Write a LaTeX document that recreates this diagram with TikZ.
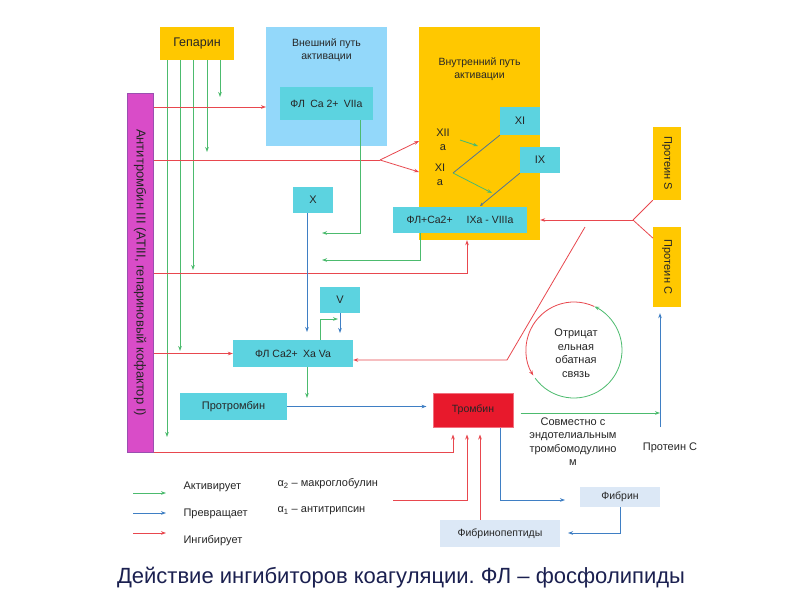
\documentclass[tikz,border=0pt]{standalone}
\usepackage{fontspec}
\setmainfont{Liberation Sans}
\frenchspacing
\usetikzlibrary{arrows.meta,calc,positioning}
\definecolor{cgInk}{HTML}{262626}
\definecolor{cgNavy}{HTML}{1B2050}
\definecolor{cgYellow}{HTML}{FFC800}
\definecolor{cgSky}{HTML}{93D8FA}
\definecolor{cgCyan}{HTML}{5CD3E0}
\definecolor{cgPale}{HTML}{DCE8F6}
\definecolor{cgMagenta}{HTML}{D94CC8}
\definecolor{cgPurple}{HTML}{9A4FB0}
\definecolor{cgRed}{HTML}{E8192C}
\definecolor{cgRose}{HTML}{F2707E}
\definecolor{cgGreen}{HTML}{4CBB6E}
\definecolor{cgBlue}{HTML}{3F7FC4}
\definecolor{cgLine}{HTML}{E8474E}
\definecolor{cgSlate}{HTML}{4F7497}
\tikzset{
  cg box/.style={inner sep=0pt, font=\fontsize{10.5}{12}\selectfont, text=cgInk, align=center},
  cg yellow/.style={cg box, fill=cgYellow},
  cg cyan/.style={cg box, fill=cgCyan},
  cg pale/.style={cg box, fill=cgPale},
  cg sky/.style={cg box, fill=cgSky},
  cg atiii/.style={cg box, fill=cgMagenta, draw=cgPurple, line width=1pt,
    font=\fontsize{13}{15}\selectfont},
  cg activ/.style={draw=cgGreen, line width=.8pt, -{Stealth[length=5pt,width=3.6pt]}},
  cg conv/.style={draw=cgBlue, line width=.8pt, -{Stealth[length=5pt,width=3.6pt]}},
  cg inhib/.style={draw=cgLine, line width=.8pt, -{Stealth[length=5pt,width=3.6pt]}},
  cg slate/.style={draw=cgSlate, line width=.8pt},
  cg small/.style={font=\fontsize{10.5}{13}\selectfont, text=cgInk, align=center},
  cg text/.style={font=\fontsize{11}{13.5}\selectfont, text=cgInk, align=center},
  cg title/.style={font=\fontsize{22}{26}\selectfont, text=cgNavy}
}

\begin{document}
\begin{tikzpicture}[x=1pt,y=-1pt]
  \useasboundingbox[fill=white] (0,0) rectangle (800,600);

  % boxes
  \node[cg yellow, font=\fontsize{12.5}{14}\selectfont, minimum width=74pt, minimum height=33pt] (hep) at (197,43.5) {Гепарин};
  \node[cg sky, minimum width=121pt, minimum height=119pt] (ext) at (326.5,86.5) {};
  \node[cg small, below=8pt of ext.north] (extT) {Внешний путь\\активации};
  \node[cg cyan, minimum width=93pt, minimum height=33pt] (vii) at (326.5,103.5) {ФЛ\enspace Ca 2+\enspace VIIa};
  \node[cg yellow, minimum width=121pt, minimum height=213pt] (intr) at (479.5,133.5) {};
  \node[cg small, below=27pt of intr.north] (intrT) {Внутренний путь\\активации};
  \node[cg cyan, font=\fontsize{11}{13}\selectfont, minimum width=40pt, minimum height=28pt] (xi) at (520,121) {XI};
  \node[cg cyan, font=\fontsize{11}{13}\selectfont, minimum width=40pt, minimum height=26pt] (ix) at (540,160) {IX};
  \node[cg text] (xiia) at (443,140) {XII\\a};
  \node[cg text] (xia) at (440,175) {XI\\a};
  \node[cg cyan, minimum width=134pt, minimum height=26pt] (ixa) at (460,220) {ФЛ+Ca2+\hspace{14pt}IXa - VIIIa};
  \node[cg atiii, minimum width=26pt, minimum height=359pt] (at3) at (140,272.5) {\rotatebox{-90}{Антитромбин III (ATIII, гепариновый кофактор I)}};
  \node[cg yellow, font=\fontsize{11}{12}\selectfont, minimum width=28pt, minimum height=73pt] (ps) at (667,163.5) {\rotatebox{-90}{Протеин S}};
  \node[cg yellow, font=\fontsize{11}{12}\selectfont, minimum width=28pt, minimum height=80pt] (pc) at (667,267) {\rotatebox{-90}{Протеин С}};
  \node[cg cyan, font=\fontsize{11}{13}\selectfont, minimum width=40pt, minimum height=26pt] (fx) at (313,200) {X};
  \node[cg cyan, font=\fontsize{11}{13}\selectfont, minimum width=40pt, minimum height=26pt] (fv) at (340,300) {V};
  \node[cg cyan, minimum width=120pt, minimum height=27pt] (xava) at (293,353.5) {ФЛ Ca2+\enspace Xa Va};
  \node[cg cyan, font=\fontsize{11}{13}\selectfont, minimum width=107pt, minimum height=27pt] (pro) at (233.5,406.5) {Протромбин};
  \node[cg box, fill=cgRed, draw=cgRose, line width=1pt, font=\fontsize{10.5}{12}\selectfont, minimum width=80pt, minimum height=34pt] (thr) at (473,410) {Тромбин};
  \node[cg pale, font=\fontsize{10.5}{12}\selectfont, minimum width=80pt, minimum height=20pt] (fib) at (620,497) {Фибрин};
  \node[cg pale, font=\fontsize{10.5}{12}\selectfont, minimum width=120pt, minimum height=27pt] (fp) at (500,533.5) {Фибринопептиды};

  % texts
  \node[cg text] (fbT) at (576,353) {Отрицат\\ельная\\обатная\\связь};
  \node[cg text] (tmT) at (573,441.5) {Совместно с\\эндотелиальным\\тромбомодулино\\м};
  \node[cg text] (pcT) at (670,448) {Протеин С};
  \node[cg text, anchor=west] (a2) at (274,484) {α\textsubscript{2} – макроглобулин};
  \node[cg text, anchor=west] (a1) at (274,511) {α\textsubscript{1} – антитрипсин};
  \node[cg title] (title) at (401,578) {Действие ингибиторов коагуляции. ФЛ – фосфолипиды};

  % heparin
  \foreach \gx/\gy in {167/437,180/351,193/270,207/152,220/97}{
    \coordinate (hg) at (\gx,\gy);
    \draw[cg activ] (hep.south -| hg) -- (hg);
  }

  % antithrombin
  \coordinate (r1) at (266,107);
  \draw[cg inhib] (at3.east |- r1) -- (r1);
  \coordinate (fk1) at (380,160);
  \coordinate (fk1a) at (419,141);
  \coordinate (fk1b) at (419,172);
  \draw[cg inhib, -] (at3.east |- fk1) -- (fk1);
  \draw[cg inhib] (fk1) -- (fk1a);
  \draw[cg inhib] (fk1) -- (fk1b);
  \coordinate (r3) at (467,273);
  \draw[cg inhib] (at3.east |- r3) -| (intr.south -| r3);
  \draw[cg inhib] (at3.east |- xava.west) -- (xava.west);
  \coordinate (r5) at (453,453);
  \draw[cg inhib, shorten >=7pt] (at3.south east) -| (thr.south -| r5);
  \coordinate (a2s) at (393,500);
  \coordinate (a2t) at (467,500);
  \draw[cg inhib, shorten >=7pt] (a2s) -| (thr.south -| a2t);
  \coordinate (fpx) at (480,520);
  \draw[cg inhib, shorten >=7pt] (fp.north -| fpx) -- (thr.south -| fpx);

  % protein S and C
  \coordinate (fk2) at (633,220);
  \coordinate (pcIn) at (653,238);
  \draw[cg inhib, -] (ps.south west) -- (fk2);
  \draw[cg inhib, -] (pc.west |- pcIn) -- (fk2);
  \draw[cg inhib] (fk2) -- (intr.east |- fk2);
  \coordinate (dg1) at (585,227);
  \coordinate (dg2) at (507,360);
  \draw[cg inhib] (dg1) -- (dg2) -- (xava.east |- dg2);

  % activation
  \coordinate (g1) at (360,233);
  \coordinate (g1e) at (322,233);
  \draw[cg activ] (vii.south -| g1) -- (g1) -- (g1e);
  \coordinate (g2) at (420,260);
  \coordinate (g2e) at (322,260);
  \draw[cg activ] (ixa.south -| g2) -- (g2) -- (g2e);
  \coordinate (g3) at (320,319);
  \coordinate (g3e) at (338,319);
  \draw[cg activ] (xava.north -| g3) -- (g3) -- (g3e);
  \coordinate (g4) at (307,398);
  \draw[cg activ] (xava.south -| g4) -- (g4);
  \coordinate (g5) at (660,413);
  \draw[cg activ, shorten <=7pt] (thr.east |- g5) -- (g5);
  \coordinate (g7s) at (460,140);
  \coordinate (g7) at (478,146);
  \draw[cg activ] (g7s) -- (g7);
  \coordinate (xiaC) at (453,173);
  \coordinate (g6) at (492,193);
  \draw[cg slate] (xi.south west) -- (xiaC);
  \draw[cg activ] (xiaC) -- (g6);
  \coordinate (ixaIn) at (480,206);
  \draw[cg slate, -{Stealth[length=3.5pt,width=3pt]}] (ix.south west) -- (ixaIn);

  % conversion
  \coordinate (b1) at (307,332);
  \draw[cg conv] (fx.south -| b1) -- (b1);
  \coordinate (b2) at (340,333);
  \draw[cg conv] (fv.south) -- (b2);
  \draw[cg conv, shorten >=6pt] (pro.east) -- (pro.east -| thr.west);
  \coordinate (b3c) at (500,500);
  \coordinate (b3) at (565,500);
  \draw[cg conv] (thr.south -| b3c) |- (b3);
  \coordinate (b4) at (568,533);
  \draw[cg conv] (fib.south) |- (b4);
  \coordinate (b5) at (660,427);
  \draw[cg conv, shorten >=6pt] (b5) -- (pc.south -| b5);

  % feedback loop
  \coordinate (fbC) at (574,350);
  \draw[cg inhib] ($(fbC)+(65:48pt)$) arc[start angle=65, end angle=212, radius=48pt];
  \draw[cg activ] ($(fbC)+(216:48pt)$) arc[start angle=216, end angle=425, radius=48pt];

  % legend
  \foreach \ly/\ty/\st/\tx in {493/487/activ/Активирует,513/514/conv/Превращает,533/541/inhib/Ингибирует}{
    \coordinate (lg\st a) at (133,\ly);
    \coordinate (lg\st b) at (166,\ly);
    \draw[cg \st] (lg\st a) -- (lg\st b);
    \node[cg text, anchor=west] (lg\st) at (180,\ty) {\tx};
  }
\end{tikzpicture}
\end{document}
